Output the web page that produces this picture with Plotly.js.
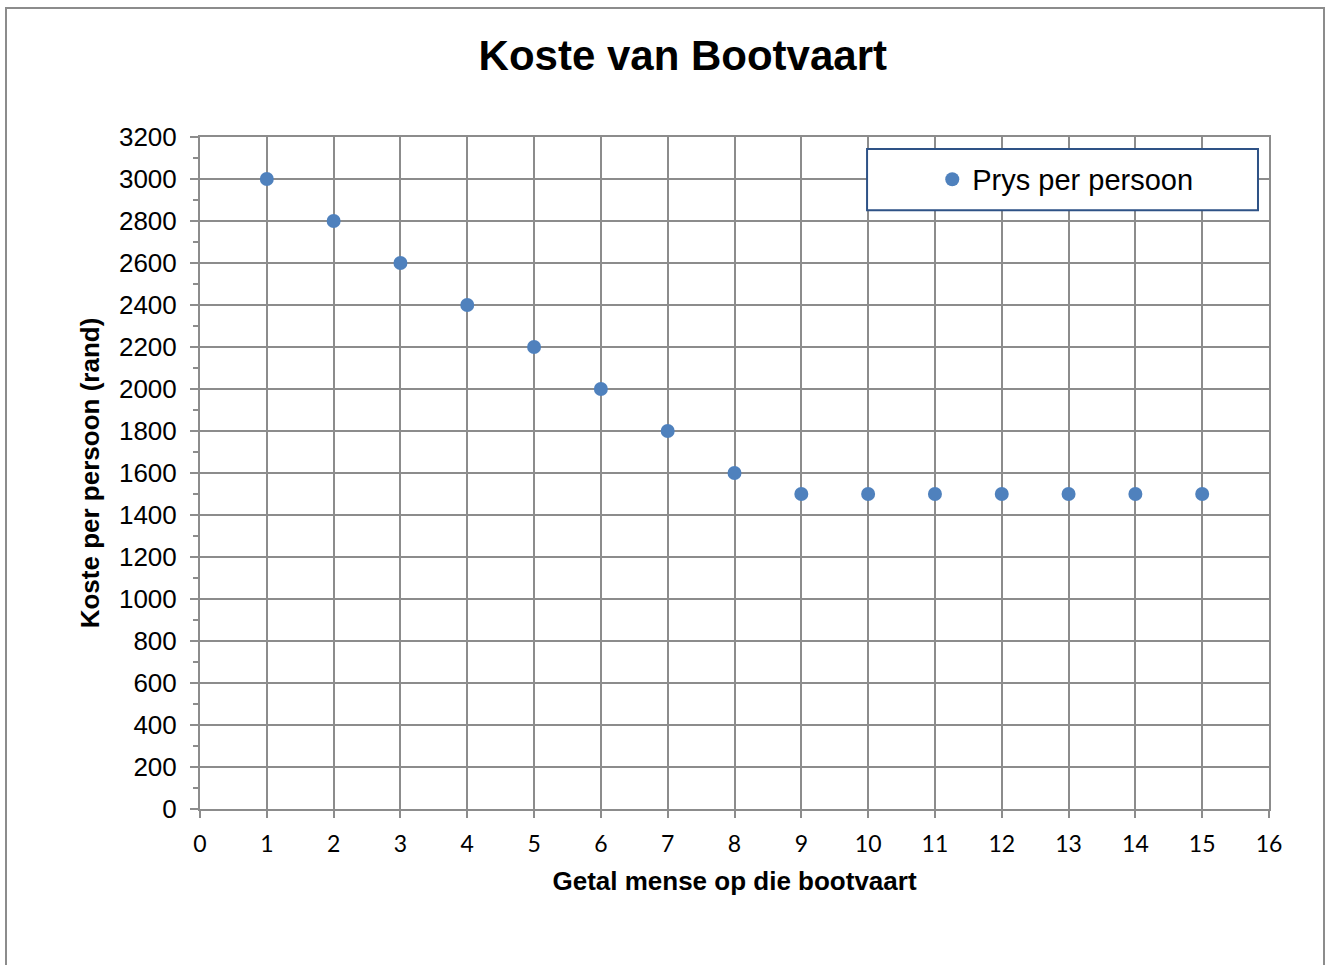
<!DOCTYPE html>
<html>
<head>
<meta charset="utf-8">
<script src="https://cdn.plot.ly/plotly-3.0.1.min.js"></script>
<style>
html,body{margin:0;padding:0;background:#fff;}
#chart{width:1331px;height:965px;}
#frame{position:absolute;left:5px;top:7px;width:1316px;height:980px;border:2px solid #8c8c8c;border-bottom:none;pointer-events:none;}
</style>
</head>
<body>
<div id="chart"></div>
<div id="frame"></div>
<script>
const chartTitle = 'Koste van Bootvaart';
const xTitle = 'Getal mense op die bootvaart';
const yTitle = 'Koste per persoon (rand)';
const seriesName = 'Prys per persoon';
const people = [1, 2, 3, 4, 5, 6, 7, 8, 9, 10, 11, 12, 13, 14, 15];
const pricePerPerson = [3000, 2800, 2600, 2400, 2200, 2000, 1800, 1600, 1500, 1500, 1500, 1500, 1500, 1500, 1500];

const gridColor = '#8c8c8c';

const trace = {
  x: people,
  y: pricePerPerson,
  type: 'scatter',
  mode: 'markers',
  name: seriesName,
  showlegend: true,
  marker: {color: '#4F81BD', size: 14}
};

const layout = {
  width: 1331,
  height: 965,
  paper_bgcolor: 'rgba(0,0,0,0)',
  plot_bgcolor: '#ffffff',
  margin: {l: 200, r: 62, t: 137, b: 156},
  title: {
    text: '<b>' + chartTitle + '</b>',
    font: {family: 'Liberation Sans, Arial, sans-serif', size: 42, color: '#000'},
    x: 0.513, xanchor: 'center', y: 0.943, yanchor: 'middle'
  },
  xaxis: {
    range: [0, 16],
    dtick: 1,
    tick0: 0,
    showgrid: true,
    gridcolor: gridColor,
    gridwidth: 2,
    showline: true,
    linecolor: gridColor,
    linewidth: 2,
    mirror: true,
    zeroline: false,
    ticks: 'outside',
    ticklen: 7,
    tickwidth: 2,
    tickcolor: gridColor,
    ticklabelstandoff: 6,
    tickfont: {family: 'Lato, Open Sans, sans-serif', size: 23, color: '#000'},
    title: {
      text: '<b>' + xTitle + '</b>',
      font: {family: 'Liberation Sans, Arial, sans-serif', size: 26, color: '#000'},
      standoff: 16
    }
  },
  yaxis: {
    range: [0, 3200],
    dtick: 200,
    tick0: 0,
    showgrid: true,
    gridcolor: gridColor,
    gridwidth: 2,
    showline: true,
    linecolor: gridColor,
    linewidth: 2,
    mirror: true,
    zeroline: false,
    ticks: 'outside',
    ticklen: 8,
    tickwidth: 2,
    tickcolor: gridColor,
    ticklabelstandoff: 8,
    minor: {dtick: 100, ticks: 'outside', ticklen: 5, tickwidth: 2, tickcolor: gridColor, showgrid: false},
    tickfont: {family: 'Liberation Sans, Arial, sans-serif', size: 26, color: '#000'},
    title: {
      text: '<b>' + yTitle + '</b>',
      font: {family: 'Liberation Sans, Arial, sans-serif', size: 26, color: '#000'},
      standoff: 12
    }
  },
  legend: {
    x: 0.685, xanchor: 'left',
    y: 0.937, yanchor: 'middle',
    bgcolor: 'rgba(0,0,0,0)',
    borderwidth: 0,
    font: {family: 'Liberation Sans, Arial, sans-serif', size: 29, color: '#000'},
    itemwidth: 30
  },
  shapes: [{
    type: 'rect', xref: 'paper', yref: 'paper',
    x0: 0.624, x1: 0.9897, y0: 0.891, y1: 0.982,
    line: {color: '#2E5286', width: 2},
    fillcolor: '#ffffff',
    layer: 'above'
  }]
};

Plotly.newPlot('chart', [trace], layout, {displayModeBar: false, staticPlot: true});
</script>
</body>
</html>
